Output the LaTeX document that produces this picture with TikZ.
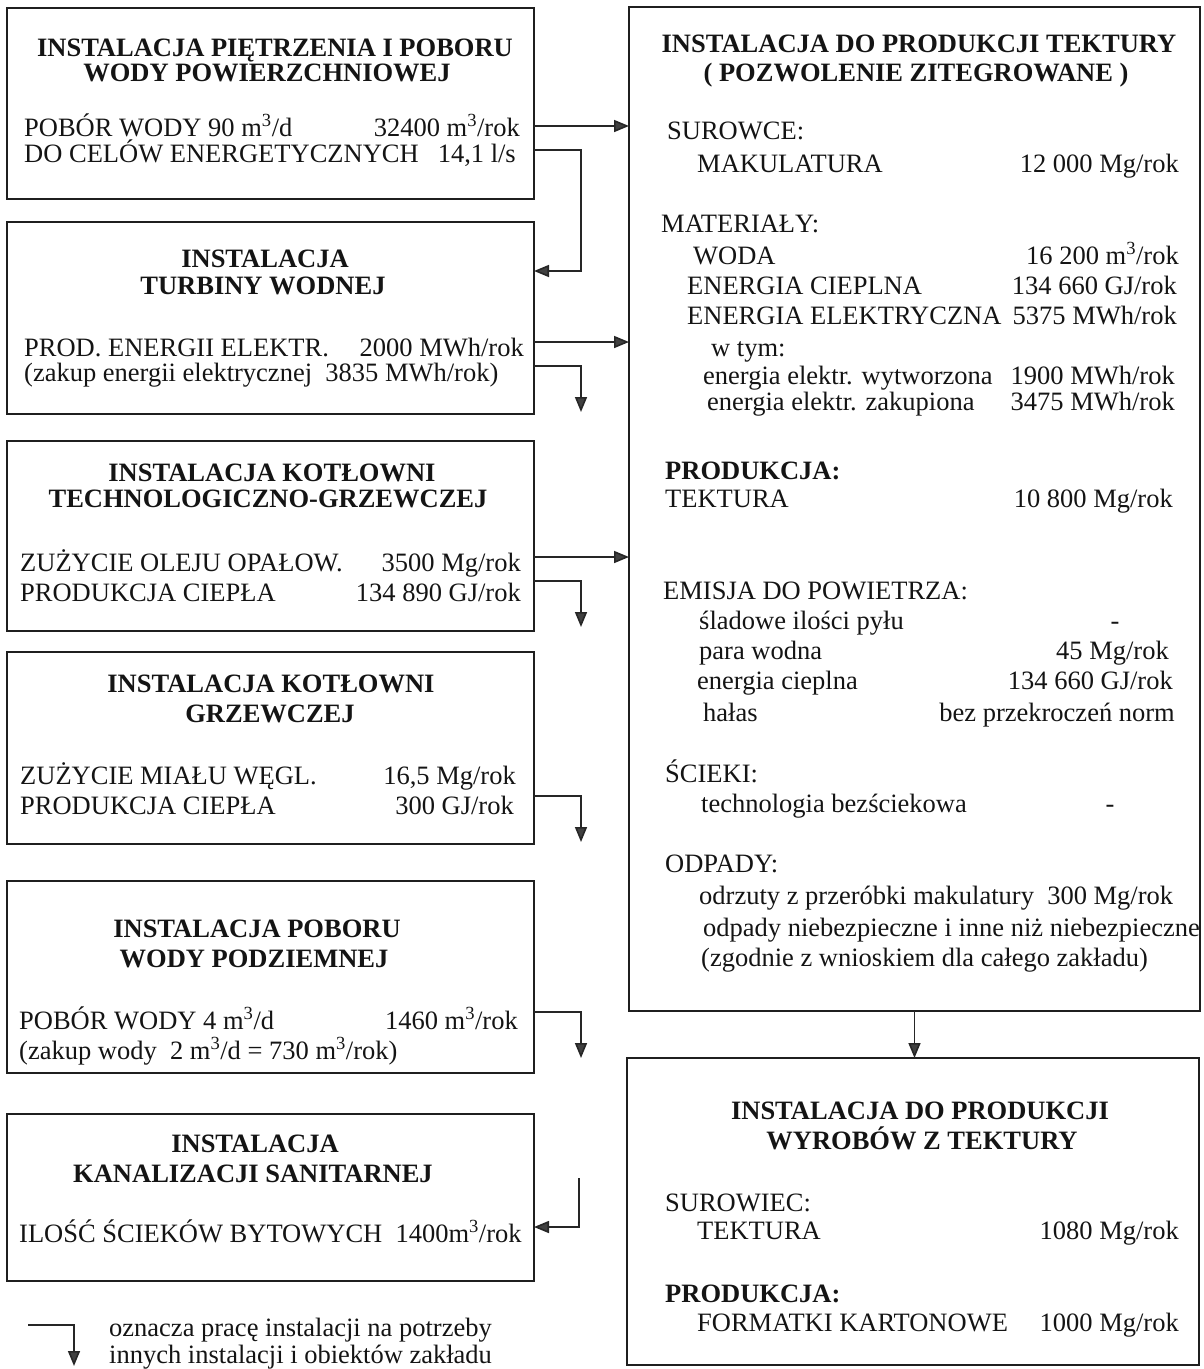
\documentclass[tikz,border=0pt]{standalone}
\usepackage{fontspec}
\setmainfont{Liberation Serif}
\usetikzlibrary{arrows.meta}
\newcommand{\mcub}{m\textsuperscript{3}}
\begin{document}
\begin{tikzpicture}[x=1pt,y=-1pt,
  font=\fontsize{26.5pt}{28pt}\selectfont,
  box/.style={draw=black!88, line width=1.8pt, inner sep=0pt, outer sep=0pt, rectangle},
  arr/.style={draw=black!85, line width=1.6pt, -{Triangle[length=15pt,width=12pt,fill=black!75]}},
  L/.style={anchor=base west, inner sep=0pt, text=black!92},
  R/.style={anchor=base east, inner sep=0pt, text=black!92},
  C/.style={anchor=base, inner sep=0pt, text=black!92},
  T/.style={anchor=base, inner sep=0pt, text=black!92, font=\fontsize{26.5pt}{28pt}\selectfont\bfseries},
  B/.style={anchor=base west, inner sep=0pt, text=black!92, font=\fontsize{26.5pt}{28pt}\selectfont\bfseries}]
\useasboundingbox (0,0) rectangle (1204,1369);

% ---- boxes ----
\node[box, minimum width=527pt, minimum height=191pt] (b1) at (270.5,103.5) {};
\node[box, minimum width=527pt, minimum height=192pt] (b2) at (270.5,318) {};
\node[box, minimum width=527pt, minimum height=190pt] (b3) at (270.5,536) {};
\node[box, minimum width=527pt, minimum height=192pt] (b4) at (270.5,748) {};
\node[box, minimum width=527pt, minimum height=192pt] (b5) at (270.5,977) {};
\node[box, minimum width=527pt, minimum height=167pt] (b6) at (270.5,1197.5) {};
\node[box, minimum width=571pt, minimum height=1004pt] (big) at (914.5,509) {};
\node[box, minimum width=572pt, minimum height=307pt] (bot) at (913,1211.5) {};

% ---- box 1 ----
\node[T] (b1t1) at (275,56) {INSTALACJA PIĘTRZENIA I POBORU};
\node[T] (b1t2) at (267,81) {WODY POWIERZCHNIOWEJ};
\node[L] (b1a) at (24,136) {POBÓR WODY 90 \mcub/d};
\node[R] (b1b) at (520,136) {32400 \mcub/rok};
\node[L] (b1c) at (24,162) {DO CELÓW ENERGETYCZNYCH};
\node[R] (b1d) at (516,162) {14,1 l/s};

% ---- box 2 ----
\node[T] (b2t1) at (265,267) {INSTALACJA};
\node[T] (b2t2) at (263,294) {TURBINY WODNEJ};
\node[L] (b2a) at (24,356) {PROD. ENERGII ELEKTR.};
\node[R] (b2b) at (524,356) {2000 MWh/rok};
\node[L] (b2c) at (24,381) {(zakup energii elektrycznej\ \ 3835 MWh/rok)};

% ---- box 3 ----
\node[T] (b3t1) at (272,481) {INSTALACJA KOTŁOWNI};
\node[T] (b3t2) at (268,507) {TECHNOLOGICZNO-GRZEWCZEJ};
\node[L] (b3a) at (20,571) {ZUŻYCIE OLEJU OPAŁOW.};
\node[R] (b3b) at (521,571) {3500 Mg/rok};
\node[L] (b3c) at (20,601) {PRODUKCJA CIEPŁA};
\node[R] (b3d) at (521,601) {134 890 GJ/rok};

% ---- box 4 ----
\node[T] (b4t1) at (271,692) {INSTALACJA KOTŁOWNI};
\node[T] (b4t2) at (270,722) {GRZEWCZEJ};
\node[L] (b4a) at (20,784) {ZUŻYCIE MIAŁU WĘGL.};
\node[R] (b4b) at (516,784) {16,5 Mg/rok};
\node[L] (b4c) at (20,814) {PRODUKCJA CIEPŁA};
\node[R] (b4d) at (514,814) {300 GJ/rok};

% ---- box 5 ----
\node[T] (b5t1) at (257,937) {INSTALACJA POBORU};
\node[T] (b5t2) at (254,967) {WODY PODZIEMNEJ};
\node[L] (b5a) at (19,1029) {POBÓR WODY 4 \mcub/d};
\node[R] (b5b) at (518,1029) {1460 \mcub/rok};
\node[L] (b5c) at (19,1059) {(zakup wody\ \ 2 \mcub/d = 730 \mcub/rok)};

% ---- box 6 ----
\node[T] (b6t1) at (255,1152) {INSTALACJA};
\node[T] (b6t2) at (253,1182) {KANALIZACJI SANITARNEJ};
\node[L] (b6a) at (19,1242) {ILOŚĆ ŚCIEKÓW BYTOWYCH\ \ 1400\mcub/rok};

% ---- big box ----
\node[T] (gt1) at (919,52) {INSTALACJA DO PRODUKCJI TEKTURY};
\node[T] (gt2) at (916,81) {( POZWOLENIE ZITEGROWANE )};
\node[L] (g1) at (667,139) {SUROWCE:};
\node[L] (g2) at (697,172) {MAKULATURA};
\node[R] (g2v) at (1179,172) {12 000 Mg/rok};
\node[L] (g3) at (661,232) {MATERIAŁY:};
\node[L] (g4) at (693,264) {WODA};
\node[R] (g4v) at (1179,264) {16 200 \mcub/rok};
\node[L] (g5) at (687,294) {ENERGIA CIEPLNA};
\node[R] (g5v) at (1177,294) {134 660 GJ/rok};
\node[L] (g6) at (687,324) {ENERGIA ELEKTRYCZNA};
\node[R] (g6v) at (1177,324) {5375 MWh/rok};
\node[L] (g7) at (711,356) {w tym:};
\node[L] (g8) at (703,384) {energia elektr. wytworzona};
\node[R] (g8v) at (1175,384) {1900 MWh/rok};
\node[L] (g9) at (707,410) {energia elektr. zakupiona};
\node[R] (g9v) at (1175,410) {3475 MWh/rok};
\node[B] (g10) at (665,479) {PRODUKCJA:};
\node[L] (g11) at (665,507) {TEKTURA};
\node[R] (g11v) at (1173,507) {10 800 Mg/rok};
\node[L] (g12) at (663,599) {EMISJA DO POWIETRZA:};
\node[L] (g13) at (699,629) {śladowe ilości pyłu};
\node[C] (g13v) at (1115,629) {-};
\node[L] (g14) at (699,659) {para wodna};
\node[R] (g14v) at (1169,659) {45 Mg/rok};
\node[L] (g15) at (697,689) {energia cieplna};
\node[R] (g15v) at (1173,689) {134 660 GJ/rok};
\node[L] (g16) at (703,721) {hałas};
\node[R] (g16v) at (1175,721) {bez przekroczeń norm};
\node[L] (g17) at (665,782) {ŚCIEKI:};
\node[L] (g18) at (701,812) {technologia bezściekowa};
\node[C] (g18v) at (1110,812) {-};
\node[L] (g19) at (665,872) {ODPADY:};
\node[L] (g20) at (699,904) {odrzuty z przeróbki makulatury\ \ 300 Mg/rok};
\node[L] (g21) at (703,936) {odpady niebezpieczne i inne niż niebezpieczne};
\node[L] (g22) at (701,966) {(zgodnie z wnioskiem dla całego zakładu)};

% ---- bottom box ----
\node[T] (ht1) at (920,1119) {INSTALACJA DO PRODUKCJI};
\node[T] (ht2) at (922,1149) {WYROBÓW Z TEKTURY};
\node[L] (h1) at (665,1211) {SUROWIEC:};
\node[L] (h2) at (697,1239) {TEKTURA};
\node[R] (h2v) at (1179,1239) {1080 Mg/rok};
\node[B] (h3) at (665,1302) {PRODUKCJA:};
\node[L] (h4) at (697,1331) {FORMATKI KARTONOWE};
\node[R] (h4v) at (1179,1331) {1000 Mg/rok};

% ---- legend ----
\node[L] (lg1) at (109,1336) {oznacza pracę instalacji na potrzeby};
\node[L] (lg2) at (109,1363) {innych instalacji i obiektów zakładu};

% ---- connector coordinates ----
\coordinate (y1) at (0,126);
\coordinate (y2) at (0,150);
\coordinate (c2) at (581,271);
\coordinate (y3) at (0,342);
\coordinate (y4) at (0,366);
\coordinate (e4) at (581,412);
\coordinate (y5) at (0,557);
\coordinate (y6) at (0,581);
\coordinate (e6) at (581,627);
\coordinate (y7) at (0,796);
\coordinate (e7) at (581,842);
\coordinate (y8) at (0,1012);
\coordinate (e8) at (581,1058);
\coordinate (s9) at (579,1178);
\coordinate (y9) at (0,1227);
\coordinate (lgs) at (28,1325);
\coordinate (lge) at (74,1366);

% ---- connectors ----
\draw[arr] (b1.east |- y1) -- (big.west |- y1);
\draw[arr] (b1.east |- y2) -| (c2) -- (b2.east |- c2);
\draw[arr] (b2.east |- y3) -- (big.west |- y3);
\draw[arr] (b2.east |- y4) -| (e4);
\draw[arr] (b3.east |- y5) -- (big.west |- y5);
\draw[arr] (b3.east |- y6) -| (e6);
\draw[arr] (b4.east |- y7) -| (e7);
\draw[arr] (b5.east |- y8) -| (e8);
\draw[arr] (s9) |- (b6.east |- y9);
\draw[arr] (big.south) -- (big.south |- bot.north);
\draw[arr] (lgs) -| (lge);
\end{tikzpicture}
\end{document}
